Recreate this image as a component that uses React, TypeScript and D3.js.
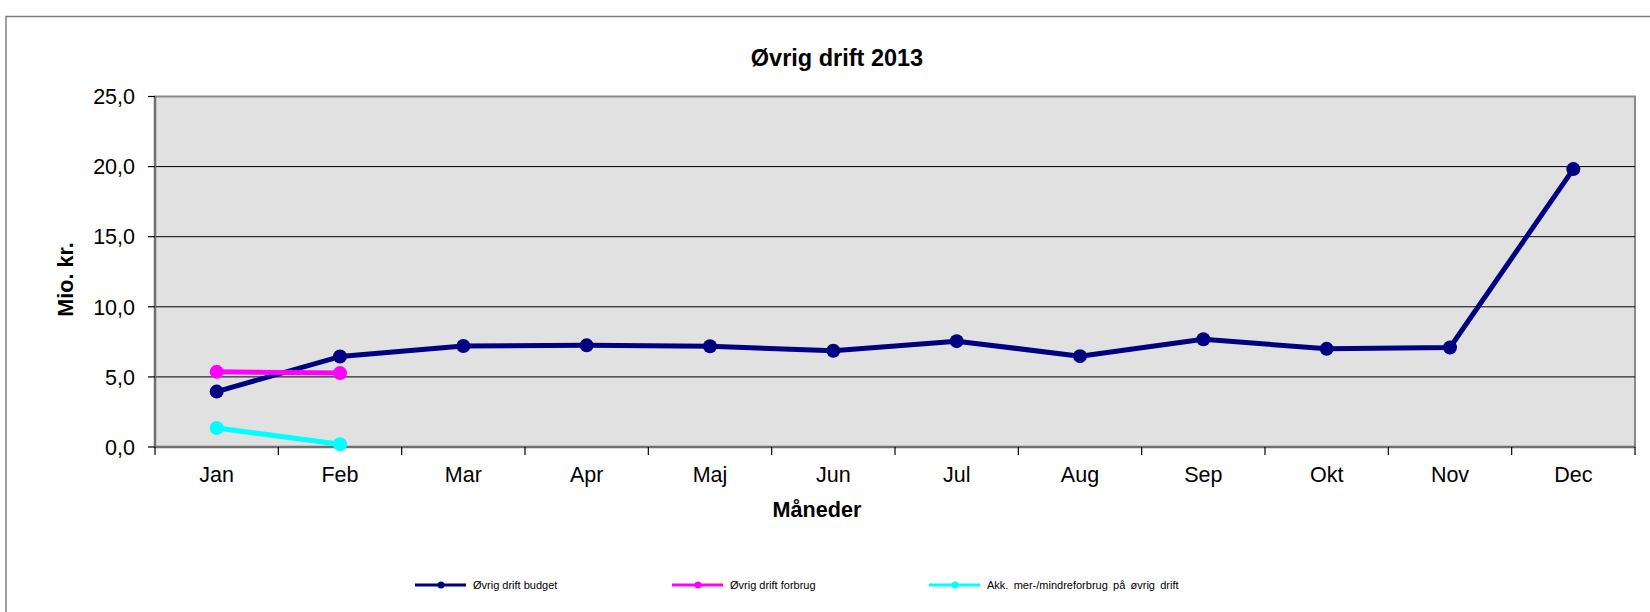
import React from "react";
import * as d3 from "d3";

const months = ["Jan", "Feb", "Mar", "Apr", "Maj", "Jun", "Jul", "Aug", "Sep", "Okt", "Nov", "Dec"];
const budget = [3.95, 6.45, 7.2, 7.25, 7.19, 6.86, 7.55, 6.48, 7.69, 7.0, 7.1, 19.82];
const forbrug = [5.36, 5.27];
const akk = [1.36, 0.2];
const yTicks = [0, 5, 10, 15, 20, 25];

const seriesNames = ["Øvrig drift budget", "Øvrig drift forbrug", "Akk. mer-/mindreforbrug på øvrig drift"];
const seriesColors = ["#000080", "#FF00FF", "#00FFFF"];

const W = 1650;
const H = 612;
const left = 155;
const right = 1635;
const top = 96.5;
const bottom = 447;
const FONT = "'Liberation Sans', Arial, sans-serif";

export default function App() {
  const x = d3.scaleBand<string>().domain(months).range([left, right]).padding(0);
  const y = d3.scaleLinear().domain([0, 25]).range([bottom, top]);
  const cx = (i: number) => (x(months[i]) as number) + x.bandwidth() / 2;
  const line = d3
    .line<number>()
    .x((_, i) => cx(i))
    .y((d) => y(d));
  const series = [budget, forbrug, akk];
  const fmt = (v: number) => v.toFixed(1).replace(".", ",");
  const boundaries = months.map((m) => x(m) as number).concat([right]);
  const legendX = [415, 672, 929];

  return (
    <svg
      width={W}
      height={H}
      style={{ position: "absolute", left: 0, top: 0, display: "block" }}
      fontFamily={FONT}
    >
      <rect x={0} y={0} width={W} height={H} fill="#fff" />
      <rect x={6} y={16.5} width={1700} height={700} fill="none" stroke="#7f7f7f" strokeWidth={1.5} />

      <text x={837} y={66} textAnchor="middle" fontWeight="bold" fontSize={23.5} fill="#000">
        Øvrig drift 2013
      </text>

      <rect x={left} y={top} width={right - left} height={bottom - top} fill="#E1E1E1" stroke="#8a8a8a" strokeWidth={2} />

      {yTicks.filter((t) => t > 0 && t < 25).map((t) => (
        <line key={t} x1={left} x2={right} y1={y(t)} y2={y(t)} stroke="#000" strokeWidth={1} />
      ))}

      {/* axes */}
      <line x1={left} x2={left} y1={top} y2={bottom} stroke="#707070" strokeWidth={2.5} />
      <line x1={left} x2={right} y1={bottom} y2={bottom} stroke="#707070" strokeWidth={2.5} />
      {yTicks.map((t) => (
        <g key={t}>
          <line x1={left - 7} x2={left} y1={y(t)} y2={y(t)} stroke="#000" strokeWidth={1.2} />
          <text x={135} y={y(t)} dy="0.36em" textAnchor="end" fontSize={21.5} fill="#000">
            {fmt(t)}
          </text>
        </g>
      ))}
      {boundaries.map((b, i) => (
        <line key={i} x1={b} x2={b} y1={bottom} y2={bottom + 8} stroke="#000" strokeWidth={1.2} />
      ))}
      {months.map((m, i) => (
        <text key={m} x={cx(i)} y={482} textAnchor="middle" fontSize={21.5} fill="#000">
          {m}
        </text>
      ))}

      <text x={817} y={516.5} textAnchor="middle" fontWeight="bold" fontSize={21.6} fill="#000">
        Måneder
      </text>
      <text transform="translate(73,279.5) rotate(-90)" textAnchor="middle" fontWeight="bold" fontSize={21.6} fill="#000">
        Mio. kr.
      </text>

      {series.map((s, k) => (
        <g key={k}>
          <path d={line(s) as string} fill="none" stroke={seriesColors[k]} strokeWidth={5} strokeLinejoin="round" />
          {s.map((v, i) => (
            <circle key={i} cx={cx(i)} cy={y(v)} r={7} fill={seriesColors[k]} />
          ))}
        </g>
      ))}

      {seriesNames.map((n, k) => (
        <g key={n}>
          <line x1={legendX[k]} x2={legendX[k] + 51} y1={585} y2={585} stroke={seriesColors[k]} strokeWidth={3} />
          <circle cx={legendX[k] + 26} cy={585} r={3.5} fill={seriesColors[k]} />
          <text x={legendX[k] + 58} y={589} fontSize={11} fill="#000" wordSpacing={k === 2 ? 2.2 : 0}>
            {n}
          </text>
        </g>
      ))}
    </svg>
  );
}
